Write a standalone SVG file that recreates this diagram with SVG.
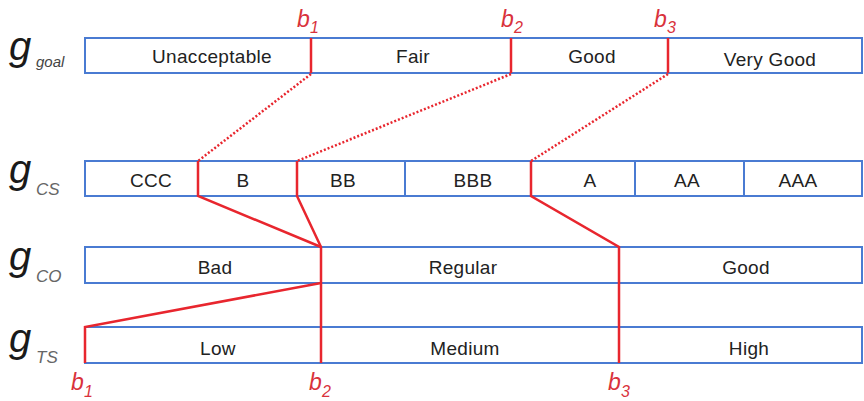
<svg xmlns="http://www.w3.org/2000/svg" width="864" height="401" viewBox="0 0 864 401">
<style>
.bar{fill:#fff;stroke:#4a7bd2;stroke-width:2}
.div{stroke:#4a7bd2;stroke-width:2}
.red{stroke:#e8262e;stroke-width:2.5;fill:none}
.dot{stroke:#e8262e;stroke-width:2.5;stroke-dasharray:2 2;fill:none}
.t{font-family:"Liberation Sans",Arial,sans-serif;font-size:19px;letter-spacing:0.3px;fill:#222;text-anchor:middle}
.g{font-family:"Liberation Sans",Arial,sans-serif;font-style:italic;font-size:40px;fill:#1a1a1a}
.sub{font-family:"Liberation Sans",Arial,sans-serif;font-style:italic;font-size:17px;fill:#666}
.b{font-family:"Liberation Sans",Arial,sans-serif;font-style:italic;font-size:23px;fill:#d9323c}
.bs{font-family:"Liberation Sans",Arial,sans-serif;font-style:italic;font-size:16px;fill:#d9323c}
</style>
<rect width="864" height="401" fill="#fff"/>

<g id="g_goal">
<rect class="bar" x="85" y="38" width="777" height="35"/>
<text class="g" x="9" y="60">g</text><text class="sub" x="36" y="67" style="fill:#444;font-size:15px">goal</text>
<text class="t" x="212" y="63">Unacceptable</text>
<text class="t" x="413" y="63">Fair</text>
<text class="t" x="592" y="63">Good</text>
<text class="t" x="770" y="66">Very Good</text>
</g>

<g id="g_cs">
<rect class="bar" x="85" y="161" width="777" height="35"/>
<line class="div" x1="405" y1="161" x2="405" y2="196"/>
<line class="div" x1="635" y1="161" x2="635" y2="196"/>
<line class="div" x1="744" y1="161" x2="744" y2="196"/>
<text class="g" x="9" y="183">g</text><text class="sub" x="36" y="195">CS</text>
<text class="t" x="151" y="187">CCC</text>
<text class="t" x="243" y="187">B</text>
<text class="t" x="343" y="187">BB</text>
<text class="t" x="473" y="187">BBB</text>
<text class="t" x="590" y="187">A</text>
<text class="t" x="687" y="187">AA</text>
<text class="t" x="798" y="187">AAA</text>
</g>

<g id="g_co">
<rect class="bar" x="85" y="247" width="777" height="36"/>
<text class="g" x="9" y="270">g</text><text class="sub" x="36" y="282">CO</text>
<text class="t" x="215" y="274">Bad</text>
<text class="t" x="463" y="274">Regular</text>
<text class="t" x="746" y="274">Good</text>
</g>

<g id="g_ts">
<rect class="bar" x="85" y="327" width="777" height="36"/>
<text class="g" x="9" y="352">g</text><text class="sub" x="36" y="363">TS</text>
<text class="t" x="218" y="355">Low</text>
<text class="t" x="465" y="355">Medium</text>
<text class="t" x="749" y="355">High</text>
</g>

<g id="connectors">
<line class="red" x1="311" y1="38" x2="311" y2="73"/>
<line class="red" x1="511" y1="38" x2="511" y2="73"/>
<line class="red" x1="668" y1="38" x2="668" y2="73"/>
<line class="dot" x1="311" y1="74" x2="198" y2="161"/>
<line class="dot" x1="511" y1="74" x2="297" y2="161"/>
<line class="dot" x1="668" y1="74" x2="531" y2="161"/>
<polyline class="red" points="198,161 198,196 321,247"/>
<polyline class="red" points="297,161 297,196 321,247 321,363"/>
<polyline class="red" points="531,161 531,196 619,247 619,363"/>
<polyline class="red" points="321,283 85,327 85,363"/>
</g>

<g id="labels">
<text class="b" x="297" y="27">b</text><text class="bs" x="310" y="33">1</text>
<text class="b" x="501" y="27">b</text><text class="bs" x="514" y="33">2</text>
<text class="b" x="654" y="27">b</text><text class="bs" x="667" y="33">3</text>
<text class="b" x="71" y="390">b</text><text class="bs" x="84" y="397">1</text>
<text class="b" x="309" y="390">b</text><text class="bs" x="322" y="397">2</text>
<text class="b" x="608" y="390">b</text><text class="bs" x="621" y="397">3</text>
</g>
</svg>
